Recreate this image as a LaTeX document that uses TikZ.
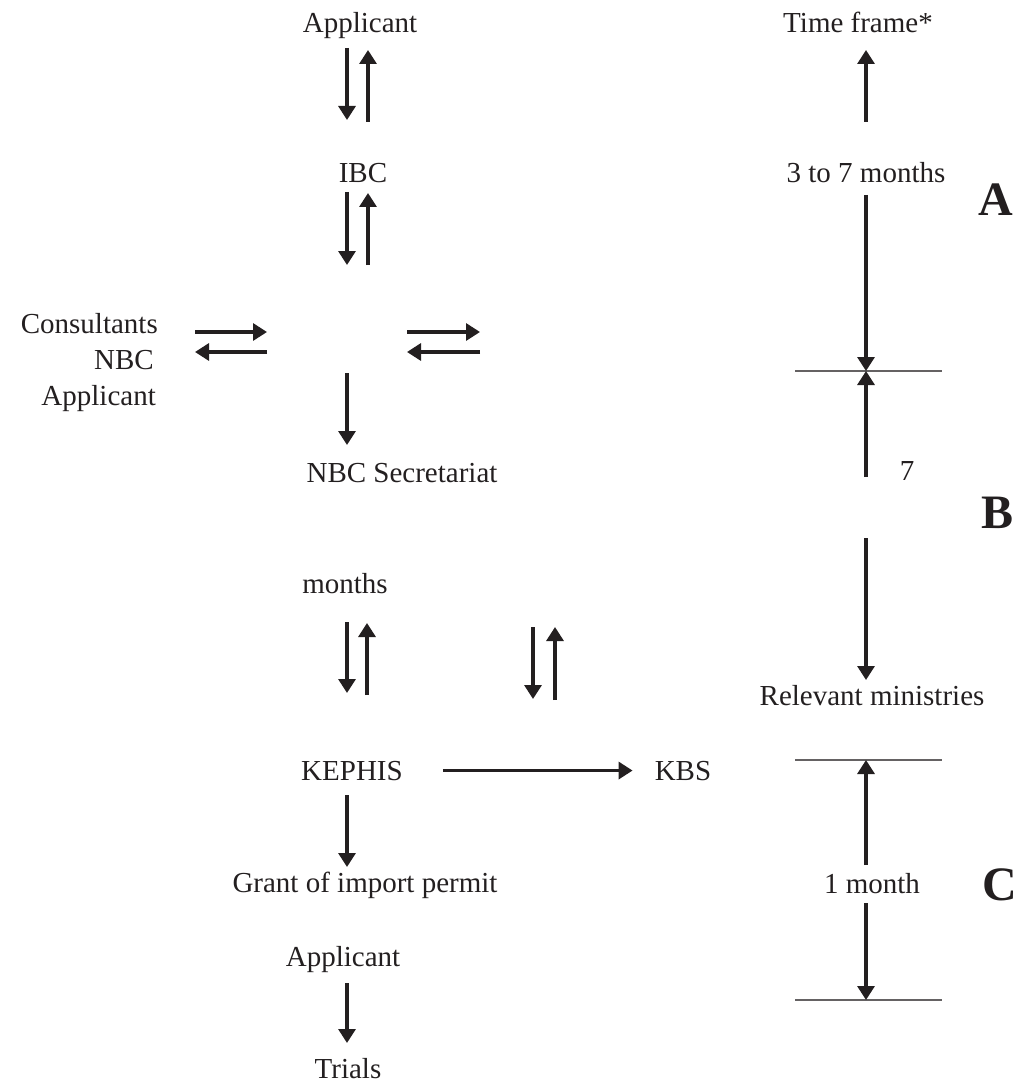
\documentclass[tikz,border=0pt]{standalone}
\usepackage{fontspec}
\setmainfont{Liberation Serif}
\usetikzlibrary{arrows.meta}
\definecolor{ink}{RGB}{35,31,32}
\begin{document}
\begin{tikzpicture}[x=1pt,y=-1pt,
  lbl/.style={inner sep=0pt,anchor=base,text=ink,font=\fontsize{29}{34}\selectfont},
  rlbl/.style={lbl,anchor=base east},
  big/.style={inner sep=0pt,anchor=base,text=ink,font=\fontsize{48}{54}\selectfont\bfseries},
  arr/.style={draw=ink,line width=3.2pt,-{Triangle[length=14pt,width=17pt]}},
  rule/.style={draw=ink!70,line width=1.1pt}]
\useasboundingbox (0,0) rectangle (1023,1083);
% text nodes
\node[lbl] (app1) at (360,33) {Applicant};
\node[lbl] (tf) at (858,33) {Time frame*};
\node[lbl] (ibc) at (363,183) {IBC};
\node[lbl] (m37) at (866,183) {3 to 7 months};
\node[big] (lA) at (996,215) {A};
\node[rlbl] (cons) at (158,333) {Consultants};
\node[rlbl] (nbc) at (154,369) {NBC};
\node[rlbl] (app2) at (156,405) {Applicant};
\node[lbl] (secr) at (402,482) {NBC Secretariat};
\node[lbl] (seven) at (907,480) {7};
\node[big] (lB) at (997,528) {B};
\node[lbl] (months) at (345,593) {months};
\node[lbl] (relmin) at (872,705) {Relevant ministries};
\node[lbl] (kephis) at (352,780) {KEPHIS};
\node[lbl] (kbs) at (683,780) {KBS};
\node[lbl] (grant) at (365,892) {Grant of import permit};
\node[lbl] (month1) at (872,893) {1 month};
\node[big] (lC) at (1000,900) {C};
\node[lbl] (app3) at (343,966) {Applicant};
\node[lbl] (trials) at (348,1078) {Trials};
% arrow end points
\coordinate (a1s) at (347,48);  \coordinate (a1e) at (347,120);
\coordinate (a2s) at (368,122); \coordinate (a2e) at (368,50);
\coordinate (a3s) at (347,192); \coordinate (a3e) at (347,265);
\coordinate (a4s) at (368,265); \coordinate (a4e) at (368,193);
\coordinate (h1s) at (195,332); \coordinate (h1e) at (267,332);
\coordinate (h2s) at (267,352); \coordinate (h2e) at (195,352);
\coordinate (h3s) at (407,332); \coordinate (h3e) at (480,332);
\coordinate (h4s) at (480,352); \coordinate (h4e) at (407,352);
\coordinate (d5s) at (347,373); \coordinate (d5e) at (347,445);
\coordinate (p1s) at (347,622); \coordinate (p1e) at (347,693);
\coordinate (p2s) at (367,695); \coordinate (p2e) at (367,623);
\coordinate (p3s) at (533,627); \coordinate (p3e) at (533,699);
\coordinate (p4s) at (555,700); \coordinate (p4e) at (555,627);
\coordinate (d6s) at (347,795); \coordinate (d6e) at (347,867);
\coordinate (d7s) at (347,983); \coordinate (d7e) at (347,1043);
\coordinate (r1s) at (866,122); \coordinate (r1e) at (866,50);
\coordinate (r2s) at (866,195); \coordinate (r2e) at (866,371);
\coordinate (r3s) at (866,477); \coordinate (r3e) at (866,371);
\coordinate (r4s) at (866,538); \coordinate (r4e) at (866,680);
\coordinate (r5s) at (866,865); \coordinate (r5e) at (866,760);
\coordinate (r6s) at (866,903); \coordinate (r6e) at (866,1000);
\coordinate (l1a) at (795,371);  \coordinate (l1b) at (942,371);
\coordinate (l2a) at (795,760);  \coordinate (l2b) at (942,760);
\coordinate (l3a) at (795,1000); \coordinate (l3b) at (942,1000);
% horizontal rules
\draw[rule] (l1a) -- (l1b);
\draw[rule] (l2a) -- (l2b);
\draw[rule] (l3a) -- (l3b);
% arrows
\draw[arr] (a1s) -- (a1e);
\draw[arr] (a2s) -- (a2e);
\draw[arr] (a3s) -- (a3e);
\draw[arr] (a4s) -- (a4e);
\draw[arr] (h1s) -- (h1e);
\draw[arr] (h2s) -- (h2e);
\draw[arr] (h3s) -- (h3e);
\draw[arr] (h4s) -- (h4e);
\draw[arr] (d5s) -- (d5e);
\draw[arr] (p1s) -- (p1e);
\draw[arr] (p2s) -- (p2e);
\draw[arr] (p3s) -- (p3e);
\draw[arr] (p4s) -- (p4e);
\draw[arr,shorten <=40pt,shorten >=22pt] (kephis.east) -- (kbs.west);
\draw[arr] (d6s) -- (d6e);
\draw[arr] (d7s) -- (d7e);
\draw[arr] (r1s) -- (r1e);
\draw[arr] (r2s) -- (r2e);
\draw[arr] (r3s) -- (r3e);
\draw[arr] (r4s) -- (r4e);
\draw[arr] (r5s) -- (r5e);
\draw[arr] (r6s) -- (r6e);
\end{tikzpicture}
\end{document}
